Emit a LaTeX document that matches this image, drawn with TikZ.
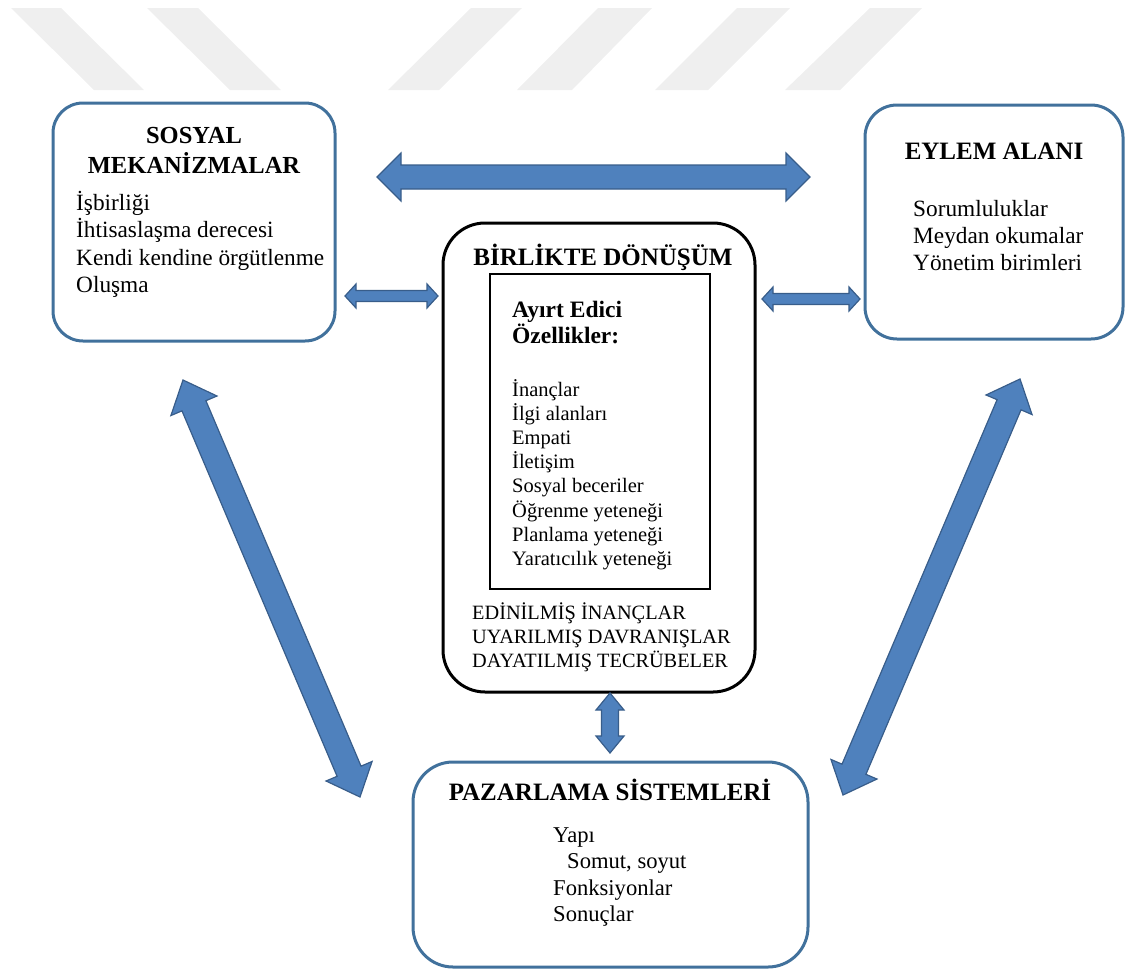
\documentclass[tikz,border=0pt]{standalone}
\usepackage{fontspec}
\setmainfont{Liberation Serif}
\usetikzlibrary{calc}
\definecolor{boxblue}{RGB}{65,113,156}
\definecolor{arrowfill}{RGB}{79,129,189}
\definecolor{arrowline}{RGB}{56,93,138}
\definecolor{wmgray}{RGB}{239,239,239}
\tikzset{
  bluebox/.style={draw=boxblue, line width=3pt, rounded corners=#1, fill=white, inner sep=0pt},
  blackbox/.style={draw=black, line width=3pt, rounded corners=42pt, fill=white, inner sep=0pt},
  innerbox/.style={draw=black, line width=1.2pt, inner sep=0pt},
  bigarrow/.style={fill=arrowfill, draw=arrowline, line width=1.2pt, line join=miter},
  txt/.style={inner sep=0pt, anchor=base west, text=black},
  ttl/.style={inner sep=0pt, anchor=base, text=black, font=\fontsize{25}{30}\selectfont\bfseries},
  sidelist/.style={txt, font=\fontsize{23.3}{28}\selectfont},
  botlist/.style={txt, font=\fontsize{22.6}{27}\selectfont},
  inlist/.style={txt, font=\fontsize{20.5}{24}\selectfont},
  inhead/.style={txt, font=\fontsize{23.5}{28}\selectfont\bfseries},
  caplist/.style={txt, font=\fontsize{20.3}{24}\selectfont}
}
\newcommand\fatarrow[5]{%
  \coordinate (#1#2h1) at ($(#1)!#5!(#2)$);
  \coordinate (#1#2h2) at ($(#2)!#5!(#1)$);
  \filldraw[bigarrow] (#1) -- ($(#1#2h1)!#4!90:(#2)$) -- ($(#1#2h1)!#3!90:(#2)$)
    -- ($(#1#2h2)!#3!-90:(#1)$) -- ($(#1#2h2)!#4!-90:(#1)$) -- (#2)
    -- ($(#1#2h2)!#4!90:(#1)$) -- ($(#1#2h2)!#3!90:(#1)$)
    -- ($(#1#2h1)!#3!-90:(#2)$) -- ($(#1#2h1)!#4!-90:(#2)$) -- cycle;}
\begin{document}
\begin{tikzpicture}[x=1pt,y=-1pt]
\useasboundingbox (0,0) rectangle (1129,969);
% watermark stripes
\fill[wmgray] (11,8) -- (61,8) -- (144,90) -- (94,90) -- cycle;
\fill[wmgray] (147,8) -- (198,8) -- (281,90) -- (230,90) -- cycle;
\fill[wmgray] (471,8) -- (522,8) -- (439,90) -- (388,90) -- cycle;
\fill[wmgray] (598,8) -- (652,8) -- (572,90) -- (517,90) -- cycle;
\fill[wmgray] (737,8) -- (790,8) -- (708,90) -- (655,90) -- cycle;
\fill[wmgray] (870,8) -- (922,8) -- (840,90) -- (785,90) -- cycle;

% boxes
\node[bluebox=30pt, minimum width=282pt, minimum height=238pt] (sosyal) at (194,222) {};
\node[bluebox=32pt, minimum width=258pt, minimum height=234pt] (eylem) at (994,222) {};
\node[blackbox, minimum width=312pt, minimum height=469pt] (birlikte) at (599,457.5) {};
\node[innerbox, minimum width=220pt, minimum height=315pt] (ozellik) at (600,431.5) {};
\node[bluebox=40pt, minimum width=395pt, minimum height=205pt] (pazar) at (610.5,864.5) {};

% SOSYAL MEKANIZMALAR
\node[ttl, font=\fontsize{24.5}{30}\selectfont\bfseries] (sosyalt1) at (194,143) {SOSYAL};
\node[ttl, font=\fontsize{24.5}{30}\selectfont\bfseries] (sosyalt2) at (194,173) {MEKANİZMALAR};
\foreach \t [count=\i from 0] in {İşbirliği, İhtisaslaşma derecesi, Kendi kendine örgütlenme, Oluşma}
  \node[sidelist] (sosyall\i) at (76,{210+27.5*\i}) {\t};

% EYLEM ALANI
\node[ttl] (eylemt) at (994,159) {EYLEM ALANI};
\foreach \t [count=\i from 0] in {Sorumluluklar, Meydan okumalar, Yönetim birimleri}
  \node[sidelist] (eyleml\i) at (913,{216+27*\i}) {\t};

% BIRLIKTE DONUSUM
\node[ttl] (birliktet) at (603,265) {BİRLİKTE DÖNÜŞÜM};
\node[inhead] (ayirt1) at (512,317) {Ayırt Edici};
\node[inhead] (ayirt2) at (512,343) {Özellikler:};
\foreach \t [count=\i from 0] in {İnançlar, İlgi alanları, Empati, İletişim, Sosyal beceriler, Öğrenme yeteneği, Planlama yeteneği, Yaratıcılık yeteneği}
  \node[inlist] (ozl\i) at (512,{396+24.2*\i}) {\t};
\node[caplist] (cap0) at (472,619) {EDİNİLMİŞ İNANÇLAR};
\node[caplist] (cap1) at (472,643) {UYARILMIŞ DAVRANIŞLAR};
\node[caplist] (cap2) at (472,667) {DAYATILMIŞ TECRÜBELER};

% PAZARLAMA SISTEMLERI
\node[ttl] (pazart) at (610,800) {PAZARLAMA SİSTEMLERİ};
\node[botlist] (pazl0) at (553,842) {Yapı};
\node[botlist] (pazl1) at (567,868.5) {Somut, soyut};
\node[botlist] (pazl2) at (553,895) {Fonksiyonlar};
\node[botlist] (pazl3) at (553,921.5) {Sonuçlar};

% arrow end points
\coordinate (tA) at (377,177);  \coordinate (tB) at (810,177);
\coordinate (lA) at (345,296);  \coordinate (lB) at (438,296);
\coordinate (rA) at (762,299);  \coordinate (rB) at (860,299);
\coordinate (vA) at (610,693);  \coordinate (vB) at (610,753);
\coordinate (dA) at (183,380);  \coordinate (dB) at (360,797);
\coordinate (eA) at (1020,379); \coordinate (eB) at (843,795);

\fatarrow{tA}{tB}{12pt}{24pt}{24pt}
\fatarrow{lA}{lB}{5.5pt}{12pt}{11pt}
\fatarrow{rA}{rB}{5.5pt}{12pt}{11pt}
\fatarrow{vA}{vB}{8.5pt}{14pt}{17pt}
\fatarrow{dA}{dB}{13pt}{25pt}{28pt}
\fatarrow{eA}{eB}{13pt}{25pt}{28pt}
\end{tikzpicture}
\end{document}
